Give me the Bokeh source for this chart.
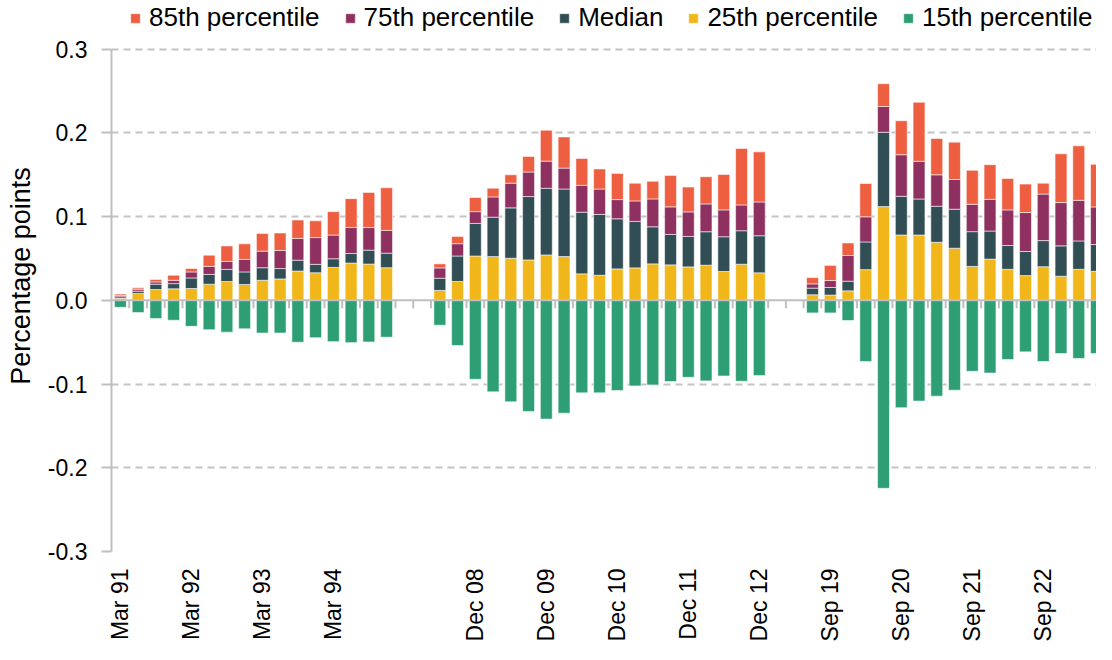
import math
from bokeh.plotting import figure
from bokeh.models import (Range1d, FixedTicker, PrintfTickFormatter, Span, Legend,
                          LegendItem, ColumnDataSource)
from bokeh.embed import file_html
from bokeh.resources import INLINE

# ---------------- data ----------------
quarters_1 = ["Mar 91", "Jun 91", "Sep 91", "Dec 91", "Mar 92", "Jun 92", "Sep 92", "Dec 92",
              "Mar 93", "Jun 93", "Sep 93", "Dec 93", "Mar 94", "Jun 94", "Sep 94", "Dec 94"]
quarters_2 = ["Jun 08", "Sep 08", "Dec 08", "Mar 09", "Jun 09", "Sep 09", "Dec 09", "Mar 10",
              "Jun 10", "Sep 10", "Dec 10", "Mar 11", "Jun 11", "Sep 11", "Dec 11", "Mar 12",
              "Jun 12", "Sep 12", "Dec 12"]
quarters_3 = ["Jun 19", "Sep 19", "Dec 19", "Mar 20", "Jun 20", "Sep 20", "Dec 20", "Mar 21",
              "Jun 21", "Sep 21", "Dec 21", "Mar 22", "Jun 22", "Sep 22", "Dec 22", "Mar 23",
              "Jun 23"]

tick_labels = ["Mar 91", "Mar 92", "Mar 93", "Mar 94",
               "Dec 08", "Dec 09", "Dec 10", "Dec 11", "Dec 12",
               "Sep 19", "Sep 20", "Sep 21", "Sep 22"]

p85 = [0.0075, 0.015, 0.025, 0.030, 0.038, 0.054, 0.065, 0.0675, 0.080, 0.0805, 0.096, 0.095,
       0.106, 0.1215, 0.129, 0.1345,
       0.0436, 0.0764, 0.1228, 0.134, 0.150, 0.1719, 0.2032, 0.1952, 0.1695, 0.157, 0.1517,
       0.140, 0.1422, 0.1493, 0.1354, 0.1477, 0.1505, 0.1814, 0.1774,
       0.0272, 0.0418, 0.0686, 0.1396, 0.2588, 0.2146, 0.2367, 0.1933, 0.189, 0.1554, 0.1621,
       0.1456, 0.1389, 0.140, 0.1751, 0.1846, 0.1625]
p75 = [0.006, 0.0134, 0.022, 0.024, 0.034, 0.0406, 0.0465, 0.049, 0.0588, 0.0596, 0.074, 0.075,
       0.078, 0.087, 0.087, 0.0836,
       0.0388, 0.0677, 0.106, 0.1236, 0.140, 0.1533, 0.1663, 0.158, 0.1374, 0.133, 0.1204,
       0.1188, 0.1212, 0.1117, 0.1057, 0.1152, 0.1081, 0.114, 0.1176,
       0.0197, 0.0237, 0.0536, 0.0998, 0.2316, 0.174, 0.1661, 0.150, 0.1444, 0.1148, 0.1207,
       0.1081, 0.1049, 0.127, 0.1168, 0.1195, 0.1116]
median = [0.0043, 0.011, 0.0193, 0.020, 0.0268, 0.031, 0.037, 0.034, 0.039, 0.038, 0.048, 0.043,
          0.0497, 0.056, 0.060, 0.0564,
          0.0265, 0.053, 0.0919, 0.0994, 0.1105, 0.124, 0.1339, 0.133, 0.1053, 0.1026, 0.0974,
          0.0943, 0.0879, 0.0788, 0.0764, 0.082, 0.076, 0.0832, 0.0772,
          0.0146, 0.0154, 0.0229, 0.0698, 0.2008, 0.1243, 0.1211, 0.1124, 0.1089, 0.0821, 0.0828,
          0.0655, 0.0584, 0.0714, 0.0651, 0.071, 0.0667]
p25 = [0.0024, 0.0083, 0.013, 0.0138, 0.0142, 0.0193, 0.0225, 0.019, 0.024, 0.0256, 0.035, 0.033,
       0.0394, 0.0446, 0.0434, 0.039,
       0.0119, 0.0226, 0.053, 0.0523, 0.0503, 0.0483, 0.0543, 0.0523, 0.0317, 0.030, 0.0376,
       0.0388, 0.0436, 0.0424, 0.040, 0.042, 0.0345, 0.0432, 0.0329,
       0.0067, 0.0063, 0.0114, 0.0367, 0.112, 0.0781, 0.0781, 0.0694, 0.0623, 0.0406, 0.0493,
       0.0371, 0.0296, 0.0402, 0.0288, 0.0371, 0.0347]
p15 = [-0.0083, -0.0146, -0.0217, -0.0237, -0.031, -0.035, -0.038, -0.034, -0.039, -0.039, -0.050,
       -0.0446, -0.0493, -0.0505, -0.0497, -0.044,
       -0.0297, -0.0539, -0.0943, -0.1093, -0.1212, -0.1327, -0.1418, -0.1347, -0.1105, -0.1105,
       -0.1077, -0.1022, -0.101, -0.097, -0.0919, -0.0962, -0.0903, -0.0966, -0.0899,
       -0.015, -0.015, -0.024, -0.073, -0.2245, -0.1282, -0.1203, -0.1144, -0.1073, -0.0848,
       -0.0868, -0.0706, -0.0615, -0.073, -0.0635, -0.0694, -0.0635]

series_names = ["85th percentile", "75th percentile", "Median", "25th percentile", "15th percentile"]
colors = ["#EE5E40", "#8F3160", "#304E54", "#F1B61A", "#2E9E74"]
y_ticks = [-0.3, -0.2, -0.1, 0.0, 0.1, 0.2, 0.3]

# ---------------- layout of categories ----------------
GAP = 2
xs = []
slot = 0
for ep in (quarters_1, quarters_2, quarters_3):
    for _ in ep:
        xs.append(slot)
        slot += 1
    slot += GAP
n_slots = slot - GAP
all_quarters = quarters_1 + quarters_2 + quarters_3
label_pos = {xs[all_quarters.index(t)]: t for t in tick_labels}

src = ColumnDataSource(dict(
    x=xs,
    zero=[0.0] * len(xs),
    p85=p85, p75=p75, med=median, p25=p25, p15=p15,
))

FONT = "Liberation Sans"
GREY = "#BFBFBF"

FRAME_H = 554
# frame runs from the figure top down to -0.3; the band above 0.3 holds the legend
Y_TOP = 0.3 + 49.0 * 0.6 / (FRAME_H - 49.0)
p = figure(width=1096, height=644, output_backend="svg", toolbar_location=None, title=None,
           x_range=Range1d(-0.5, n_slots - 1.0), y_range=Range1d(-0.3, Y_TOP),
           min_border_left=111, min_border_right=0, min_border_top=0,
           min_border_bottom=644 - FRAME_H)
p.outline_line_color = None
p.background_fill_color = "white"
p.border_fill_color = "white"

W = 0.67
bar_kw = dict(source=src, width=W, line_color="white", line_alpha=0.55, line_width=1)
r25 = p.vbar(x="x", bottom="zero", top="p25", fill_color=colors[3], **bar_kw)
rmed = p.vbar(x="x", bottom="p25", top="med", fill_color=colors[2], **bar_kw)
r75 = p.vbar(x="x", bottom="med", top="p75", fill_color=colors[1], **bar_kw)
r85 = p.vbar(x="x", bottom="p75", top="p85", fill_color=colors[0], **bar_kw)
r15 = p.vbar(x="x", bottom="zero", top="p15", fill_color=colors[4], **bar_kw)

# zero line and small category ticks hanging from it
p.add_layout(Span(location=0, dimension="width", line_color=GREY, line_width=2))
bounds = [i + 0.5 for i in range(n_slots)]
p.segment(x0=bounds, x1=bounds, y0=[0] * len(bounds), y1=[-0.0095] * len(bounds),
          line_color=GREY, line_width=2)

# y axis
p.yaxis.bounds = (y_ticks[0], y_ticks[-1])
p.yaxis.ticker = FixedTicker(ticks=y_ticks)
p.yaxis.formatter = PrintfTickFormatter(format="%.1f")
p.yaxis.axis_label = "Percentage points"
p.yaxis.axis_label_text_font = FONT
p.yaxis.axis_label_text_font_size = "27px"
p.yaxis.axis_label_text_font_style = "normal"
p.yaxis.axis_label_text_color = "black"
p.yaxis.axis_label_standoff = 9
p.yaxis.major_label_text_font = FONT
p.yaxis.major_label_text_font_size = "23px"
p.yaxis.major_label_text_color = "black"
p.yaxis.major_label_standoff = 14
p.yaxis.axis_line_color = GREY
p.yaxis.axis_line_width = 2
p.yaxis.major_tick_line_color = GREY
p.yaxis.major_tick_line_width = 2
p.yaxis.major_tick_out = 10
p.yaxis.major_tick_in = 0
p.yaxis.minor_tick_line_color = None

# x axis
p.xaxis.ticker = FixedTicker(ticks=sorted(label_pos.keys()))
p.xaxis.major_label_overrides = {k: v for k, v in label_pos.items()}
p.xaxis.major_label_orientation = math.pi / 2
p.xaxis.major_label_text_font = FONT
p.xaxis.major_label_text_font_size = "23px"
p.xaxis.major_label_text_color = "black"
p.xaxis.major_label_standoff = 17
p.xaxis.axis_line_color = None
p.xaxis.major_tick_line_color = None
p.xaxis.major_tick_out = 0
p.xaxis.major_tick_in = 0
p.xaxis.minor_tick_line_color = None

# grid
p.xgrid.grid_line_color = None
p.ygrid.ticker = FixedTicker(ticks=[t for t in y_ticks if t != 0.0])
p.ygrid.grid_line_color = "#C4C4C4"
p.ygrid.grid_line_width = 2
p.ygrid.grid_line_dash = "7 5"

legend = Legend(items=[LegendItem(label=series_names[0], renderers=[r85]),
                       LegendItem(label=series_names[1], renderers=[r75]),
                       LegendItem(label=series_names[2], renderers=[rmed]),
                       LegendItem(label=series_names[3], renderers=[r25]),
                       LegendItem(label=series_names[4], renderers=[r15])],
                location=(18, FRAME_H - 36), orientation="horizontal",
                label_text_font=FONT, label_text_font_size="26px", label_text_color="black",
                glyph_width=12, glyph_height=12, label_standoff=8, spacing=24,
                padding=0, margin=0, border_line_color=None, background_fill_alpha=0)
p.add_layout(legend)

open("out.html", "w").write(file_html(p, INLINE))
